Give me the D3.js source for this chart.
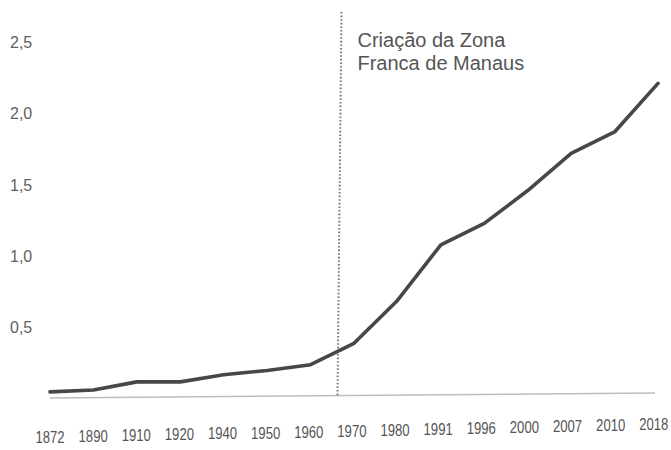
<!DOCTYPE html>
<html>
<head>
<meta charset="utf-8">
<script src="https://cdn.jsdelivr.net/npm/d3@7"></script>
<style>
  body { margin: 0; background: #fff; }
  svg { display: block; }
</style>
</head>
<body>
<svg width="671" height="450"></svg>
<script>
// anos do censo (pontos igualmente espaçados)
const years = ["1872", "1890", "1910", "1920", "1940", "1950", "1960", "1970",
               "1980", "1991", "1996", "2000", "2007", "2010", "2018"];
// população de Manaus, em milhões
const population = [0.05, 0.063, 0.12, 0.12, 0.17, 0.2, 0.24, 0.39,
                    0.69, 1.08, 1.23, 1.46, 1.72, 1.87, 2.21];
const yTicks = [0.5, 1.0, 1.5, 2.0, 2.5];
// posição do marco (em índice de categoria, entre 1960 e 1970)
const zfmIndex = 6.62;
const zfmLabel = ["Criação da Zona", "Franca de Manaus"];

const width = 671, height = 450;
const svg = d3.select("svg");

const x = d3.scaleLinear().domain([0, years.length - 1]).range([50, 658]);
const y = d3.scaleLinear().domain([0, 2.5]).range([399, 42]);

// baseline
svg.append("line")
    .attr("x1", 50).attr("x2", 655)
    .attr("y1", y(0) - 1).attr("y2", y(0) - 6)
    .attr("stroke", "#bdbdbd")
    .attr("stroke-width", 1.6);

// y tick labels
svg.append("g")
    .selectAll("text")
    .data(yTicks)
    .join("text")
    .attr("x", 10)
    .attr("y", d => y(d))
    .attr("dy", "0.36em")
    .style("font", "16px 'Liberation Sans', Arial, sans-serif")
    .style("fill", "#5f5f5f")
    .text(d => d3.format(".1f")(d).replace(".", ","));

// x tick labels (fonte estreita)
svg.append("g")
    .selectAll("text")
    .data(years)
    .join("text")
    .attr("transform", (d, i) => `translate(${x(i) - i * 0.3},${443 - i * 0.9}) scale(0.82,1)`)
    .attr("text-anchor", "middle")
    .style("font", "16px 'Liberation Sans', Arial, sans-serif")
    .style("fill", "#555")
    .text(d => d);

// marco da Zona Franca
svg.append("line")
    .attr("x1", x(zfmIndex) + 4).attr("x2", x(zfmIndex))
    .attr("y1", 12).attr("y2", y(0) - 2)
    .attr("stroke", "#777")
    .attr("stroke-width", 2)
    .attr("stroke-dasharray", "1.6,2");

svg.append("g")
    .selectAll("text")
    .data(zfmLabel)
    .join("text")
    .attr("x", x(zfmIndex) + 20)
    .attr("y", (d, i) => 47 + i * 23)
    .style("font", "20px 'Liberation Sans', Arial, sans-serif")
    .style("fill", "#555")
    .text(d => d);

// linha da população
const line = d3.line()
    .x((d, i) => x(i))
    .y(d => y(d));

svg.append("path")
    .datum(population)
    .attr("d", line)
    .attr("fill", "none")
    .attr("stroke", "#474747")
    .attr("stroke-width", 3.6)
    .attr("stroke-linecap", "round")
    .attr("stroke-linejoin", "round");
</script>
</body>
</html>
